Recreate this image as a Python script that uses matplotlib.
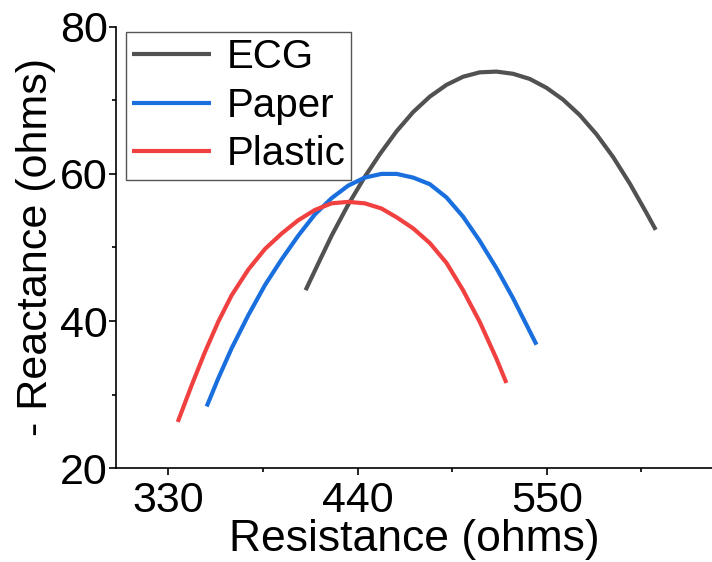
import matplotlib
matplotlib.use("Agg")
import matplotlib.pyplot as plt
from matplotlib.ticker import AutoMinorLocator

plt.rcParams['font.family'] = ['Liberation Sans', 'DejaVu Sans']

# Impedance curves (resistance vs. negative reactance), ohms
ecg_r = [409.8, 417.1, 424.9, 434.5, 444.2, 453.0, 462.7, 472.3, 482.0, 491.7, 501.3,
         511.0, 520.7, 530.4, 540.1, 549.8, 559.4, 569.1, 578.8, 588.5, 598.2, 607.9, 613.3]
ecg_x = [44.2, 47.8, 51.6, 55.8, 59.6, 62.7, 65.8, 68.4, 70.5, 72.1, 73.2,
         73.8, 73.9, 73.6, 72.9, 71.7, 70.1, 68.0, 65.4, 62.3, 58.7, 54.7, 52.4]

paper_r = [352.3, 359.0, 366.8, 376.5, 386.2, 395.9, 405.5, 415.2, 424.9, 434.5, 444.2,
           453.9, 462.7, 472.3, 482.0, 491.7, 501.3, 511.0, 520.7, 530.4, 540.1, 544.0]
paper_x = [28.4, 32.2, 36.3, 40.8, 44.9, 48.4, 51.6, 54.5, 56.7, 58.4, 59.5,
           60.0, 60.0, 59.5, 58.6, 56.8, 54.2, 50.9, 47.2, 43.1, 38.6, 36.8]

plastic_r = [335.5, 343.6, 351.3, 359.0, 366.8, 376.5, 386.2, 395.9, 405.5, 415.2, 424.9,
             434.5, 444.2, 453.9, 462.7, 472.3, 482.0, 491.7, 501.3, 511.0, 520.7, 526.5]
plastic_x = [26.3, 31.3, 35.8, 39.9, 43.5, 47.0, 49.8, 51.9, 53.7, 55.1, 56.0,
             56.2, 56.0, 55.3, 54.1, 52.6, 50.6, 47.9, 44.2, 39.9, 34.9, 31.6]

labels = ["ECG", "Paper", "Plastic"]
colors = ["#515151", "#1A6FDF", "#F14040"]

x_ticks = [330, 440, 550]
y_ticks = [20, 40, 60, 80]

fig = plt.figure(figsize=(7.12, 5.62), dpi=100)
ax = fig.add_axes([116 / 712, 1 - 468.3 / 562, 1 - 116 / 712, (468.3 - 26.7) / 562])

for r, x, lab, c in zip([ecg_r, paper_r, plastic_r], [ecg_x, paper_x, plastic_x], labels, colors):
    ax.plot(r, x, color=c, lw=3.0, label=lab, solid_capstyle='butt', solid_joinstyle='round')

ax.set_xlim(299.6, 646)
ax.set_ylim(20, 80)
ax.set_xticks(x_ticks)
ax.set_yticks(y_ticks)
ax.xaxis.set_minor_locator(AutoMinorLocator(2))
ax.yaxis.set_minor_locator(AutoMinorLocator(2))

for s in ['top', 'right']:
    ax.spines[s].set_visible(False)
for s in ['left', 'bottom']:
    ax.spines[s].set_linewidth(1.2)

ax.tick_params(which='major', direction='out', length=5, width=1.2, labelsize=31)
ax.tick_params(which='minor', direction='out', length=3, width=1.2)
ax.tick_params(axis='x', which='major', pad=4)
ax.tick_params(axis='y', which='major', pad=1)

ax.set_xlabel("Resistance (ohms)", fontsize=32, labelpad=-1)
ax.set_ylabel("- Reactance (ohms)", fontsize=31, labelpad=3)

leg = ax.legend(loc='upper left', bbox_to_anchor=(0.0168, 0.9887), borderaxespad=0,
                fontsize=29, frameon=True, fancybox=False, framealpha=1,
                edgecolor='#555555', handlelength=1.95, handletextpad=0.40,
                borderpad=0.15, labelspacing=0.27)
leg.get_frame().set_linewidth(1.0)

fig.savefig("out.png", dpi=100)
